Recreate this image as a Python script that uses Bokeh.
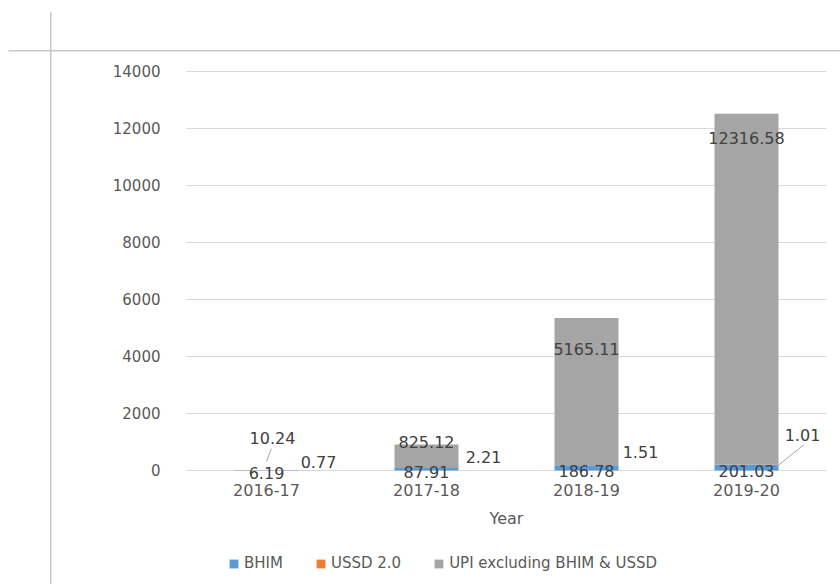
from bokeh.plotting import figure
from bokeh.models import (ColumnDataSource, Range1d, FixedTicker, Legend, LegendItem,
                          BoxAnnotation, LinearAxis)
from bokeh.core.properties import value
from bokeh.embed import file_html
from bokeh.resources import INLINE

# ---------------- data ----------------
years = ["2016-17", "2017-18", "2018-19", "2019-20"]
bhim = [6.19, 87.91, 186.78, 201.03]
ussd = [0.77, 2.21, 1.51, 1.01]
upi = [10.24, 825.12, 5165.11, 12316.58]
series_names = ["BHIM", "USSD 2.0", "UPI excluding BHIM & USSD"]
y_ticks = [0, 2000, 4000, 6000, 8000, 10000, 12000, 14000]
axis_title = "Year"

# ---------------- styles ----------------
colors = ["#5B9BD5", "#ED7D31", "#A5A5A5"]
FONT = "DejaVu Sans"
TXT = "#595959"
LBL = "#404040"
GRID = "#d9d9d9"
BAR_W = 0.4
# view window (the plotting frame fills the whole page, axes sit at fixed locations)
X_VIEW = (-1.6625, 3.5875)
Y_VIEW = (-4000, 16491)
# data-label nudges in screen pixels (Excel "best fit" placement)
ussd_dx = [52, 57, 54, 56]
ussd_dy = [-8, -11, -13, -30]
upi_dx = [6, 0, 0, 0]
upi_dy = [-32, -2, 31, 24]

x = list(range(len(years)))
x_lo, x_hi = -0.5, len(years) - 0.5

p = figure(width=840, height=584, output_backend="svg", toolbar_location=None,
           x_range=Range1d(*X_VIEW), y_range=Range1d(*Y_VIEW),
           x_axis_type=None, y_axis_type=None, min_border=0)
p.outline_line_color = None
p.background_fill_color = "white"
p.border_fill_color = "white"
p.grid.visible = False

# spreadsheet cell borders behind the chart
for box in (dict(left=8, right=840, top=49.5, bottom=51),
            dict(left=49.5, right=51, top=12, bottom=584)):
    p.add_layout(BoxAnnotation(**box, left_units="canvas", right_units="canvas",
                               top_units="canvas", bottom_units="canvas",
                               fill_color="#c8c8c8", fill_alpha=1, line_color=None,
                               level="underlay"))

# horizontal gridlines across the category span
p.segment(x0=[x_lo] * len(y_ticks), y0=y_ticks, x1=[x_hi] * len(y_ticks), y1=y_ticks,
          line_color=GRID, line_width=1)

src = ColumnDataSource(dict(x=x, bhim=bhim, ussd=ussd, upi=upi))
renderers = p.vbar_stack(["bhim", "ussd", "upi"], x="x", width=BAR_W, color=colors,
                         source=src, line_color=None)

# axes at fixed locations inside the frame
yax = LinearAxis(fixed_location=x_lo, ticker=FixedTicker(ticks=y_ticks),
                 bounds=(y_ticks[0], y_ticks[-1]))
xax = LinearAxis(fixed_location=0, ticker=FixedTicker(ticks=x), bounds=(x_lo, x_hi),
                 major_label_overrides={i: y for i, y in enumerate(years)})
for ax in (xax, yax):
    ax.axis_line_color = None
    ax.major_tick_line_color = None
    ax.minor_tick_line_color = None
    ax.major_label_text_color = TXT
    ax.major_label_text_font = FONT
yax.major_label_text_font_size = "15px"
yax.major_label_standoff = 20
xax.major_label_text_font_size = "16px"
xax.major_label_standoff = 8
xax.axis_label = axis_title
xax.axis_label_text_font = FONT
xax.axis_label_text_font_size = "16px"
xax.axis_label_text_font_style = "normal"
xax.axis_label_text_color = TXT
xax.axis_label_standoff = 9
p.add_layout(yax, "left")
p.add_layout(xax, "below")

# data labels
bhim_src = ColumnDataSource(dict(
    x=x, y=[b / 2 for b in bhim], t=[f"{v:.2f}" for v in bhim]))
p.text(x="x", y="y", text="t", source=bhim_src, text_align="center",
       text_baseline="middle", y_offset=3, text_font=value(FONT),
       text_font_size="16px", text_color=LBL)

ussd_src = ColumnDataSource(dict(
    x=x, y=[b + u for b, u in zip(bhim, ussd)], t=[f"{v:.2f}" for v in ussd],
    dx=ussd_dx, dy=ussd_dy))
p.text(x="x", y="y", text="t", source=ussd_src, text_align="center",
       text_baseline="middle", x_offset="dx", y_offset="dy", text_font=value(FONT),
       text_font_size="16px", text_color=LBL)

upi_src = ColumnDataSource(dict(
    x=x, y=[b + u + g for b, u, g in zip(bhim, ussd, upi)], t=[f"{v:.2f}" for v in upi],
    dx=upi_dx, dy=upi_dy))
p.text(x="x", y="y", text="t", source=upi_src, text_align="center",
       text_baseline="middle", x_offset="dx", y_offset="dy", text_font=value(FONT),
       text_font_size="16px", text_color=LBL)

# leader lines for the two displaced labels (anchored on the stacked values)
tot0 = bhim[0] + ussd[0] + upi[0]
st3 = bhim[3] + ussd[3]
p.segment(x0=[0 + 0.0, 3 + 0.19], y0=[tot0 + 300, st3 - 60],
          x1=[0 + 0.03, 3 + 0.36], y1=[tot0 + 750, st3 + 710],
          line_color="#a6a6a6", line_width=1)

# legend below the chart
legend = Legend(items=[LegendItem(label=n, renderers=[r]) for n, r in zip(series_names, renderers)],
                orientation="horizontal", location=(228, 12),
                glyph_width=11, glyph_height=11, label_standoff=5, spacing=32,
                label_text_font=FONT, label_text_font_size="15px", label_text_color=TXT,
                label_height=18, padding=0, margin=0,
                border_line_color=None, background_fill_alpha=0)
p.add_layout(legend, "center")

open("out.html", "w").write(file_html(p, INLINE))
